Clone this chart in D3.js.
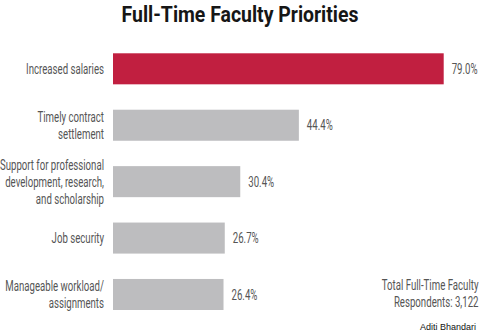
<!DOCTYPE html>
<html>
<head>
<meta charset="utf-8">
<script src="https://cdn.jsdelivr.net/npm/d3@7"></script>
<style>
  html, body { margin: 0; padding: 0; background: #fff; }
  svg { display: block; }
  .cond { font-family: Roboto, "Noto Sans", sans-serif; }
</style>
</head>
<body>
<svg id="chart" width="480" height="333"></svg>
<script>
// Survey answers, one row per priority
const categories = [
  ["Increased salaries"],
  ["Timely contract", "settlement"],
  ["Support for professional", "development, research,", "and scholarship"],
  ["Job security"],
  ["Manageable workload/", "assignments"]
];
const shares = [79.0, 44.4, 30.4, 26.7, 26.4];
const valueLabels = ["79.0%", "44.4%", "30.4%", "26.7%", "26.4%"];
const titleText = "Full-Time Faculty Priorities";
const noteLines = ["Total Full-Time Faculty", "Respondents: 3,122"];
const credit = "Aditi Bhandari";

const svg = d3.select("#chart");
const keys = categories.map((d, i) => i);

const x = d3.scaleLinear().domain([0, 79]).range([113, 443.7]);
const y = d3.scaleBand().domain(keys).range([40.6, 322.7])
  .paddingInner(0.45).paddingOuter(0.225);

const bodySize = 14;

// Condensed look: draw a text in a group squeezed horizontally around its anchor
function condensedText(parent, ax, ay, opts) {
  const g = parent.append("g")
    .attr("transform", `translate(${ax},${ay}) scale(${opts.sx},1)`);
  return g.append("text")
    .attr("class", "cond")
    .attr("text-anchor", opts.anchor || "start")
    .attr("font-size", opts.size)
    .attr("font-weight", opts.weight || "normal")
    .attr("fill", opts.fill)
    .attr("dy", opts.dy || 0)
    .text(opts.text);
}

// Squeeze factor for body text, taken from one label's natural width
const probe = svg.append("text").attr("class", "cond").attr("font-size", bodySize)
  .text("Increased salaries");
const bodySx = 78 / probe.node().getComputedTextLength();
probe.remove();

const tProbe = svg.append("text").attr("class", "cond").attr("font-size", 22)
  .attr("font-weight", "bold").text(titleText);
const titleSx = 237 / tProbe.node().getComputedTextLength();
tProbe.remove();

condensedText(svg, 240, 21.5, {
  sx: titleSx, anchor: "middle", size: 22, weight: "bold", fill: "#161616", text: titleText
});

svg.append("g").selectAll("rect")
  .data(shares)
  .join("rect")
  .attr("x", x(0))
  .attr("y", (d, i) => y(i))
  .attr("width", d => x(d) - x(0))
  .attr("height", y.bandwidth())
  .attr("fill", (d, i) => i === 0 ? "#c11f40" : "#bdbdbf");

// Category labels, right-aligned against the bars
const lineH = 17;
const labelG = svg.append("g");
categories.forEach((lines, i) => {
  const cy = y(i) + y.bandwidth() / 2;
  const top = cy - (lines.length - 1) * lineH / 2;
  lines.forEach((l, j) => {
    condensedText(labelG, 104, top + j * lineH, {
      sx: bodySx, anchor: "end", size: bodySize, fill: "#555", dy: "0.36em", text: l
    });
  });
});

const valueG = svg.append("g");
shares.forEach((d, i) => {
  condensedText(valueG, x(d) + 8, y(i) + y.bandwidth() / 2, {
    sx: bodySx, size: bodySize, fill: "#555", dy: "0.36em", text: valueLabels[i]
  });
});

noteLines.forEach((l, j) => {
  condensedText(svg, 478.5, 285 + j * lineH, {
    sx: bodySx, anchor: "end", size: bodySize, fill: "#555", dy: "0.36em", text: l
  });
});

svg.append("text")
  .attr("x", 476).attr("y", 327)
  .attr("dy", "0.35em")
  .attr("text-anchor", "end")
  .attr("font-family", "Liberation Sans, Arial, sans-serif")
  .attr("font-size", 9)
  .attr("fill", "#111")
  .text(credit);
</script>
</body>
</html>
